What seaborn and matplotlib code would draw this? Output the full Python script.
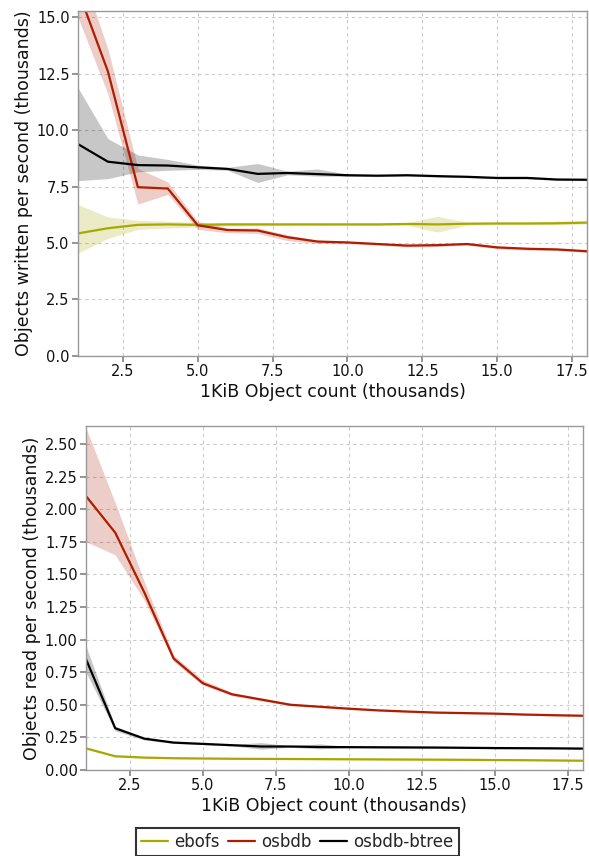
import numpy as np
import pandas as pd
import matplotlib
matplotlib.use("Agg")
import matplotlib.pyplot as plt
import seaborn as sns
from matplotlib.lines import Line2D

sns.set_theme(style="white")
plt.rcParams['font.family'] = ['DejaVu Sans']

x = list(range(1, 19))
systems = ["ebofs", "osbdb", "osbdb-btree"]
colors = {"ebofs": "#a8a800", "osbdb": "#b01c00", "osbdb-btree": "#000000"}

# writes (thousands per second): mid, low, high
w_ebofs = [5.42, 5.65, 5.8, 5.82, 5.8, 5.82, 5.82, 5.82, 5.82, 5.82, 5.82, 5.84, 5.82, 5.85, 5.86, 5.86, 5.87, 5.9]
w_ebofs_lo = [4.55, 5.2, 5.6, 5.66, 5.7, 5.74, 5.75, 5.76, 5.76, 5.77, 5.77, 5.78, 5.48, 5.78, 5.8, 5.8, 5.8, 5.84]
w_ebofs_hi = [6.7, 6.15, 6.0, 5.96, 5.9, 5.9, 5.9, 5.88, 5.88, 5.88, 5.88, 5.9, 6.18, 5.92, 5.92, 5.92, 5.97, 5.96]
w_osbdb = [16.2, 12.6, 7.47, 7.41, 5.78, 5.57, 5.55, 5.25, 5.06, 5.02, 4.95, 4.88, 4.9, 4.95, 4.8, 4.74, 4.71, 4.63]
w_osbdb_lo = [15.0, 11.6, 6.72, 7.15, 5.6, 5.45, 5.42, 5.1, 4.98, 4.96, 4.9, 4.82, 4.84, 4.9, 4.74, 4.68, 4.66, 4.58]
w_osbdb_hi = [17.5, 13.6, 8.3, 7.7, 5.95, 5.66, 5.66, 5.36, 5.12, 5.07, 5.0, 4.94, 4.96, 5.0, 4.86, 4.8, 4.76, 4.68]
w_btree = [9.38, 8.6, 8.45, 8.43, 8.35, 8.28, 8.06, 8.1, 8.05, 8.0, 7.98, 8.0, 7.96, 7.93, 7.88, 7.88, 7.81, 7.8]
w_btree_lo = [7.76, 7.85, 8.15, 8.22, 8.26, 8.22, 7.68, 8.02, 7.96, 7.95, 7.94, 7.96, 7.92, 7.89, 7.84, 7.84, 7.77, 7.76]
w_btree_hi = [11.88, 9.62, 8.9, 8.7, 8.45, 8.35, 8.52, 8.18, 8.28, 8.05, 8.02, 8.04, 8.0, 7.97, 7.92, 7.92, 7.85, 7.84]

# reads (thousands per second): mid, low, high
r_ebofs = [0.166, 0.105, 0.095, 0.09, 0.088, 0.086, 0.085, 0.084, 0.083, 0.082, 0.081, 0.08, 0.079, 0.078, 0.076, 0.075, 0.073, 0.071]
r_ebofs_lo = [0.158, 0.1, 0.091, 0.087, 0.085, 0.083, 0.082, 0.081, 0.08, 0.079, 0.078, 0.077, 0.076, 0.075, 0.073, 0.072, 0.07, 0.068]
r_ebofs_hi = [0.174, 0.11, 0.099, 0.093, 0.091, 0.089, 0.088, 0.087, 0.086, 0.085, 0.084, 0.083, 0.082, 0.081, 0.079, 0.078, 0.076, 0.074]
r_osbdb = [2.1, 1.82, 1.36, 0.855, 0.665, 0.58, 0.54, 0.5, 0.485, 0.47, 0.457, 0.448, 0.44, 0.436, 0.432, 0.425, 0.42, 0.416]
r_osbdb_lo = [1.75, 1.65, 1.3, 0.83, 0.65, 0.57, 0.53, 0.493, 0.478, 0.464, 0.452, 0.443, 0.435, 0.431, 0.427, 0.42, 0.415, 0.411]
r_osbdb_hi = [2.62, 2.05, 1.44, 0.88, 0.69, 0.595, 0.552, 0.51, 0.492, 0.476, 0.462, 0.453, 0.445, 0.441, 0.437, 0.43, 0.425, 0.421]
r_btree = [0.85, 0.32, 0.24, 0.21, 0.2, 0.19, 0.18, 0.18, 0.176, 0.175, 0.174, 0.173, 0.172, 0.17, 0.168, 0.167, 0.166, 0.164]
r_btree_lo = [0.75, 0.3, 0.23, 0.203, 0.194, 0.184, 0.16, 0.174, 0.162, 0.17, 0.169, 0.168, 0.167, 0.165, 0.163, 0.162, 0.161, 0.159]
r_btree_hi = [0.95, 0.335, 0.25, 0.217, 0.206, 0.196, 0.21, 0.186, 0.2, 0.18, 0.179, 0.178, 0.177, 0.175, 0.173, 0.172, 0.171, 0.169]


def long_frame(series):
    rows = []
    for name, (mid, lo, hi) in series.items():
        for xi, m, l, h in zip(x, mid, lo, hi):
            for v in (l, m, h):
                rows.append({"x": xi, "value": v, "system": name})
    return pd.DataFrame(rows)


writes = long_frame({
    "ebofs": (w_ebofs, w_ebofs_lo, w_ebofs_hi),
    "osbdb": (w_osbdb, w_osbdb_lo, w_osbdb_hi),
    "osbdb-btree": (w_btree, w_btree_lo, w_btree_hi),
})
reads = long_frame({
    "ebofs": (r_ebofs, r_ebofs_lo, r_ebofs_hi),
    "osbdb": (r_osbdb, r_osbdb_lo, r_osbdb_hi),
    "osbdb-btree": (r_btree, r_btree_lo, r_btree_hi),
})

fig = plt.figure(figsize=(5.89, 8.56), dpi=100)
ax1 = fig.add_axes([0.1324, 0.5845, 0.8642, 0.4026])
ax2 = fig.add_axes([0.146, 0.1005, 0.843, 0.4022])

for ax, df in ((ax1, writes), (ax2, reads)):
    sns.lineplot(data=df, x="x", y="value", hue="system", hue_order=systems,
                 palette=colors, estimator="median", errorbar=("pi", 100),
                 err_kws={"alpha": 0.22, "linewidth": 0}, linewidth=1.6,
                 ax=ax, legend=False)
    ax.set_xlim(1, 18)
    ax.set_xticks([2.5, 5.0, 7.5, 10.0, 12.5, 15.0, 17.5])
    ax.set_xticklabels([f"{t:.1f}" for t in ax.get_xticks()])
    ax.grid(True, linestyle=(0, (3, 3)), color="#cccccc", linewidth=0.8)
    for s in ax.spines.values():
        s.set_color("#999999")
        s.set_linewidth(1.0)
    ax.tick_params(axis="both", which="both", direction="out", length=4,
                   color="#888888", labelsize=10.5, labelcolor="#111111",
                   bottom=True, left=True, pad=2)
    ax.set_xlabel("1KiB Object count (thousands)", fontsize=12.5, color="#111111", labelpad=3)

ax1.set_ylim(0, 15.28)
ax1.set_yticks([0, 2.5, 5.0, 7.5, 10.0, 12.5, 15.0])
ax1.set_yticklabels([f"{t:.1f}" for t in ax1.get_yticks()])
ax1.set_ylabel("Objects written per second (thousands)", fontsize=12.5, color="#111111", labelpad=3)

ax2.set_ylim(0, 2.64)
ax2.set_yticks([0, 0.25, 0.5, 0.75, 1.0, 1.25, 1.5, 1.75, 2.0, 2.25, 2.5])
ax2.set_yticklabels([f"{t:.2f}" for t in ax2.get_yticks()])
ax2.set_ylabel("Objects read per second (thousands)", fontsize=12.5, color="#111111", labelpad=3)

handles = [Line2D([0], [0], color=colors[s], linewidth=1.6) for s in systems]
leg = fig.legend(handles, systems, loc="upper center", bbox_to_anchor=(0.505, 1 - 828 / 856),
                 ncol=3, frameon=True, fancybox=False, fontsize=12, handlelength=1.6,
                 handletextpad=0.4, columnspacing=0.5, borderpad=0.3, borderaxespad=0)
leg.get_frame().set_edgecolor("black")
leg.get_frame().set_linewidth(1.5)

fig.savefig("out.png", dpi=100)
